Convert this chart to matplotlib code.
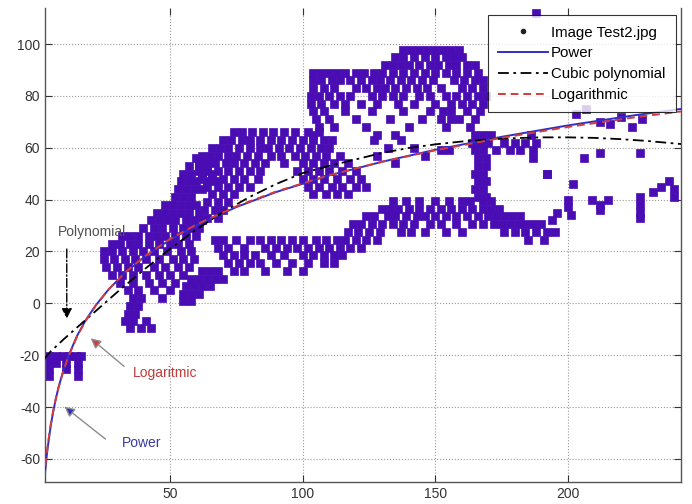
"""
Image points with power / cubic / logarithmic fits
"""
import matplotlib
matplotlib.use('Agg')
import matplotlib.pyplot as plt
from matplotlib.lines import Line2D

plt.rcParams['font.family'] = ['Liberation Sans', 'DejaVu Sans']
plt.rcParams['axes.unicode_minus'] = False

# Points, stored as (y, [x values]) rows per cluster
m_rows = [
    (-20.5, [4.5, 7, 9.5, 12, 14.5, 16.5]),
    (-23, [4.5, 7, 11, 15.5]),
    (-25.5, [4.5, 11, 15.5]),
    (-28, [4.5, 15.5]),
]

left_rows = [
    (56, [60]),
    (53, [57, 61, 64]),
    (50, [55, 58, 62, 66]),
    (47, [54, 57, 60, 64, 67]),
    (44, [53, 56, 59, 62]),
    (41, [52, 55, 58]),
    (38, [48, 51, 54, 57, 60]),
    (35, [45, 48, 51, 54, 57, 61]),
    (32, [43, 46, 49, 52, 56, 59, 62]),
    (29, [40, 44, 47, 51, 55, 58, 61]),
    (26, [32, 35, 38, 42, 45, 48, 52, 56, 60]),
    (23, [28, 31, 35, 38, 42, 46, 50, 53, 57]),
    (20, [25, 28, 32, 36, 40, 44, 49, 54, 58]),
    (17, [25, 29, 33, 37, 41, 46, 51, 55, 59]),
    (14, [26, 30, 34, 38, 44, 48, 53, 57]),
    (11, [28, 32, 36, 41, 46, 50, 55]),
    (8, [31, 36, 42, 47, 52]),
    (5, [34, 38, 44, 50]),
    (2, [36, 39, 47]),
    (-1, [35, 38]),
    (-4, [34, 37]),
    (-7, [33, 36, 41]),
    (-9.5, [35, 39, 43]),
]

mid_rows = [
    (66, [74, 77, 81, 85, 89, 93, 97, 102, 106]),
    (63, [70, 73, 77, 80, 84, 88, 92, 96, 100, 104, 108, 111, 127, 137]),
    (60, [66, 69, 72, 76, 80, 84, 87, 91, 95, 99, 103, 107, 110, 132, 142]),
    (57, [62, 65, 68, 72, 75, 79, 83, 88, 92, 97, 101, 105, 109, 114, 128, 146]),
    (54, [61, 64, 67, 71, 74, 78, 82, 86, 93, 100, 104, 108, 112, 117, 135]),
    (51, [61, 64, 68, 72, 76, 80, 84, 98, 102, 106, 110, 115, 120]),
    (48, [62, 66, 70, 74, 78, 83, 100, 104, 108, 113, 118, 122]),
    (45, [64, 68, 72, 76, 80, 102, 106, 111, 115, 120, 124]),
    (42, [66, 70, 74, 104, 109, 113, 117]),
    (39, [64, 68, 72]),
    (36, [63, 67, 70]),
    (33, [64, 68]),
]

upper_rows = [
    (97.5, [138, 141, 144, 147, 150, 153, 156, 159]),
    (95, [135, 138, 142, 146, 150, 154, 157, 160]),
    (92, [131, 134, 137, 140, 144, 148, 151, 155, 158, 162, 165]),
    (89, [104, 107, 110, 113, 116, 120, 123, 127, 130, 134, 138, 142, 146,
          150, 154, 158, 162, 166]),
    (86, [104, 107, 111, 114, 118, 122, 126, 129, 133, 137, 141, 145, 149,
          157, 161, 165, 168]),
    (83, [104, 108, 112, 120, 124, 128, 131, 135, 139, 143, 147, 152, 160,
          164, 168]),
    (80, [103, 106, 110, 114, 118, 126, 130, 134, 138, 144, 148, 154, 158,
          162, 166, 169]),
    (77, [103, 107, 112, 116, 122, 128, 136, 142, 150, 156, 160, 164, 168]),
    (74, [104, 108, 116, 126, 138, 148, 153, 156, 162, 167]),
    (71, [105, 110, 120, 133, 145, 152, 156, 159, 165]),
    (68, [106, 112, 124, 140, 154, 163]),
    (65, [104, 128, 135]),
]

col_rows = [
    (65, [165, 168, 171, 186]),
    (62, [164, 167, 170, 176, 180, 184, 188]),
    (59, [152, 155, 165, 168, 173, 178, 182, 187]),
    (56, [166, 169, 187]),
    (53, [166, 169]),
    (50, [165, 168, 192]),
    (47, [166, 169]),
    (44, [165, 168]),
    (41, [166, 169]),
]

low_rows = [
    (39.5, [134, 139, 144, 150, 155, 160, 163, 168, 171]),
    (36.5, [130, 133, 136, 140, 144, 148, 152, 156, 160, 164, 168, 171, 174]),
    (33.5, [124, 127, 132, 135, 139, 143, 146, 150, 154, 158, 162, 166, 170,
            173, 176, 179, 182]),
    (30.5, [119, 122, 126, 130, 134, 138, 142, 148, 152, 158, 164, 168, 172,
            175, 178, 181, 184, 187, 190]),
    (27.5, [117, 121, 125, 129, 137, 141, 146, 154, 160, 176, 180, 184, 188,
            192, 195]),
    (24.5, [67, 70, 75, 80, 84, 88, 92, 96, 100, 105, 109, 113, 116, 120,
            124, 128, 185, 191]),
    (21.5, [68, 72, 78, 86, 90, 94, 98, 102, 106, 110, 114, 118, 122]),
    (18.5, [70, 74, 78, 82, 88, 93, 100, 104, 108, 112, 115]),
    (15.5, [72, 76, 80, 84, 90, 96, 102, 108, 112]),
    (12.5, [62, 65, 68, 74, 78, 86, 94, 100]),
    (9.5, [58, 61, 64, 67, 70]),
    (6.5, [56, 59, 62, 65]),
    (3.5, [55, 58, 61]),
    (1, [55, 58]),
]

right_x = [192, 202, 200, 200, 201, 209, 212, 215, 212, 227, 227, 227, 227,
           232, 235, 238, 240, 240, 206, 212, 227, 203, 207, 212, 216, 220,
           224, 228, 188, 196, 194]
right_y = [50, 46, 40, 37, 34, 40, 38, 40, 36, 41, 38, 35, 33,
           43, 45, 47, 44, 41, 56, 58, 58, 73, 75, 70, 69, 72,
           68, 71, 112, 35, 32]

# Fitted curves
fit_x = [2.6, 3, 3.5, 4, 5, 6, 7, 8, 10, 12, 15, 18, 22, 27, 33, 40, 50, 60,
         75, 90, 110, 130, 150, 175, 200, 225, 245]
log_y = [-67.5, -63.0, -58.2, -54.1, -47.1, -41.4, -36.6, -32.4, -25.5, -19.8,
         -12.8, -7.1, -0.9, 5.5, 11.8, 17.8, 24.8, 30.4, 37.4, 43.1, 49.4,
         54.6, 59.0, 63.8, 68.0, 71.7, 74.3]
power_y = [-69.5, -64.5, -59.3, -55.0, -47.6, -41.7, -36.7, -32.4, -25.3,
           -19.6, -12.5, -6.9, -0.8, 5.5, 11.7, 17.6, 24.5, 30.1, 37.1, 42.9,
           49.3, 54.6, 59.2, 64.2, 68.6, 72.5, 75.3]
cubic_x = [2.6, 5, 10, 15, 20, 25, 30, 40, 50, 60, 70, 80, 90, 100, 110, 120,
           130, 140, 150, 160, 170, 180, 190, 200, 210, 220, 230, 245]
cubic_y = [-21.5, -18.6, -13.8, -9.3, -4.8, -0.3, 4.2, 12.8, 21.0, 28.5, 35.2,
           41.0, 46.0, 50.2, 53.0, 55.5, 58.0, 59.9, 61.3, 62.4, 63.2, 63.7,
           64.0, 64.0, 63.8, 63.3, 62.6, 61.2]

labels = ['Image Test2.jpg', 'Power', 'Cubic polynomial', 'Logarithmic']

PURPLE = '#4a0db4'
BLUE = '#2e2ec8'
RED = '#d23c3c'
DASHDOT = (0, (6, 2.5, 1.5, 2.5))


def expand(rows):
    xs, ys = [], []
    for y, row in rows:
        xs += row
        ys += [y] * len(row)
    return xs, ys


pts_x, pts_y = list(right_x), list(right_y)
for rows in (m_rows, left_rows, mid_rows, upper_rows, col_rows, low_rows):
    rx, ry = expand(rows)
    pts_x += rx
    pts_y += ry

fig = plt.figure(figsize=(6.92, 5.04), dpi=100)
ax = fig.add_axes([0.065, 0.0437, 0.919, 0.9405])

ax.plot(pts_x, pts_y, 's', color=PURPLE, markersize=5.6, markeredgewidth=0.5,
        zorder=2)
ax.plot(fit_x, power_y, '-', color=BLUE, lw=1.4, zorder=3)
ax.plot(cubic_x, cubic_y, color='black', lw=1.3, linestyle=DASHDOT, zorder=3)
ax.plot(fit_x, log_y, '--', color=RED, lw=1.4, dashes=(4, 2.5), zorder=4)

ax.set_xlim(2.89, 242.6)
ax.set_ylim(-68.9, 113.9)
ax.set_xticks([50, 100, 150, 200])
ax.set_yticks(range(-60, 101, 20))
ax.grid(True, linestyle=':', color='#9a9a9a', linewidth=0.8)
ax.tick_params(direction='in', length=5, top=True, right=True,
               labelsize=10, colors='#333333', width=0.8)
for side in ('left', 'right', 'bottom'):
    ax.spines[side].set_color('#555555')
    ax.spines[side].set_linewidth(1.0)
ax.spines['top'].set_visible(False)

# Annotations
ax.text(7.8, 27.5, 'Polynomial', color='#505050', fontsize=10, va='center')
ax.annotate('', xy=(11.1, -7), xytext=(11.1, 22),
            arrowprops=dict(arrowstyle='-|>', color='black', lw=1.0,
                            linestyle='-.', mutation_scale=15))
ax.text(36, -27, 'Logaritmic', color='#c03a3a', fontsize=10, va='center')
ax.annotate('', xy=(19.3, -12.8), xytext=(33.5, -25),
            arrowprops=dict(arrowstyle='-|>', edgecolor='#8c8c8c',
                            facecolor=RED, lw=1.0, mutation_scale=15))
ax.text(32, -53.7, 'Power', color='#3a3aa8', fontsize=10, va='center')
ax.annotate('', xy=(9.4, -39.2), xytext=(26.5, -53),
            arrowprops=dict(arrowstyle='-|>', edgecolor='#8c8c8c',
                            facecolor=BLUE, lw=1.0, mutation_scale=15))

handles = [
    Line2D([], [], marker='.', color='#202020', linestyle='none', markersize=6),
    Line2D([], [], color=BLUE, lw=1.4),
    Line2D([], [], color='black', lw=1.3, linestyle=DASHDOT),
    Line2D([], [], color=RED, lw=1.4, linestyle='--', dashes=(4, 2.5)),
]
leg = ax.legend(handles, labels, loc='upper right',
                bbox_to_anchor=(0.992, 0.985), frameon=True, fancybox=False,
                edgecolor='black', fontsize=10.8, handlelength=3.3,
                handletextpad=0.2, labelspacing=0.45, borderpad=0.7,
                borderaxespad=0)
leg.get_frame().set_linewidth(0.8)
leg.set_zorder(10)

fig.savefig('out.png', dpi=100)
